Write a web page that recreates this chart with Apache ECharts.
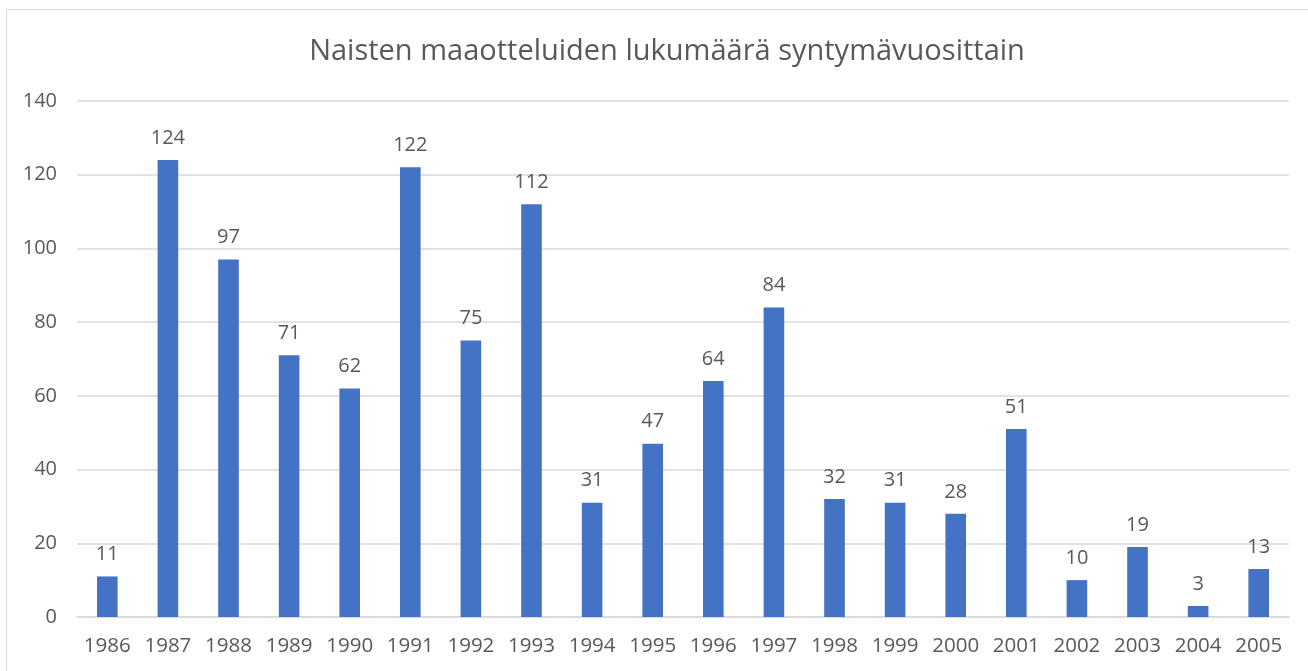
<!DOCTYPE html>
<html>
<head>
<meta charset="utf-8">
<script src="https://cdn.jsdelivr.net/npm/echarts@6/dist/echarts.min.js"></script>
<style>
    html, body { margin: 0; padding: 0; background: #fff; }
    #frame { position: absolute; left: 6px; top: 9px; width: 1320px; height: 700px; border: 1px solid #d9d9d9; }
    #main { position: absolute; left: 0; top: 0; width: 1308px; height: 671px; }
</style>
</head>
<body>
<div id="frame"></div>
<div id="main"></div>
<script>
    var years = ['1986', '1987', '1988', '1989', '1990', '1991', '1992', '1993', '1994', '1995',
        '1996', '1997', '1998', '1999', '2000', '2001', '2002', '2003', '2004', '2005'];
    var matches = [11, 124, 97, 71, 62, 122, 75, 112, 31, 47, 64, 84, 32, 31, 28, 51, 10, 19, 3, 13];

    var chart = echarts.init(document.getElementById('main'));
    var option = {
        backgroundColor: 'transparent',
        animation: false,
        title: {
            text: 'Naisten maaotteluiden lukumäärä syntymävuosittain',
            left: 662,
            top: 32,
            textAlign: 'center',
            textStyle: {
                fontFamily: 'Open Sans',
                fontSize: 29,
                fontWeight: 'normal',
                color: '#595959'
            }
        },
        grid: {
            left: 77,
            right: 19,
            top: 101,
            bottom: 54
        },
        xAxis: {
            type: 'category',
            data: years,
            axisLine: { lineStyle: { color: '#d9d9d9', width: 1.5 } },
            axisTick: { show: false },
            axisLabel: {
                interval: 0,
                hideOverlap: false,
                margin: 19,
                fontFamily: 'Open Sans',
                fontSize: 20.5,
                color: '#595959'
            }
        },
        yAxis: {
            type: 'value',
            min: 0,
            max: 140,
            interval: 20,
            axisLine: { show: false },
            axisTick: { show: false },
            splitLine: { lineStyle: { color: '#d9d9d9', width: 1.5 } },
            axisLabel: {
                margin: 20,
                fontFamily: 'Open Sans',
                fontSize: 20,
                color: '#595959'
            }
        },
        series: [{
            type: 'bar',
            data: matches,
            barWidth: '34%',
            itemStyle: { color: '#4472c4' },
            label: {
                show: true,
                position: 'top',
                distance: 12,
                fontFamily: 'Open Sans',
                fontSize: 20,
                color: '#595959'
            }
        }]
    };
    chart.setOption(option);
</script>
</body>
</html>
